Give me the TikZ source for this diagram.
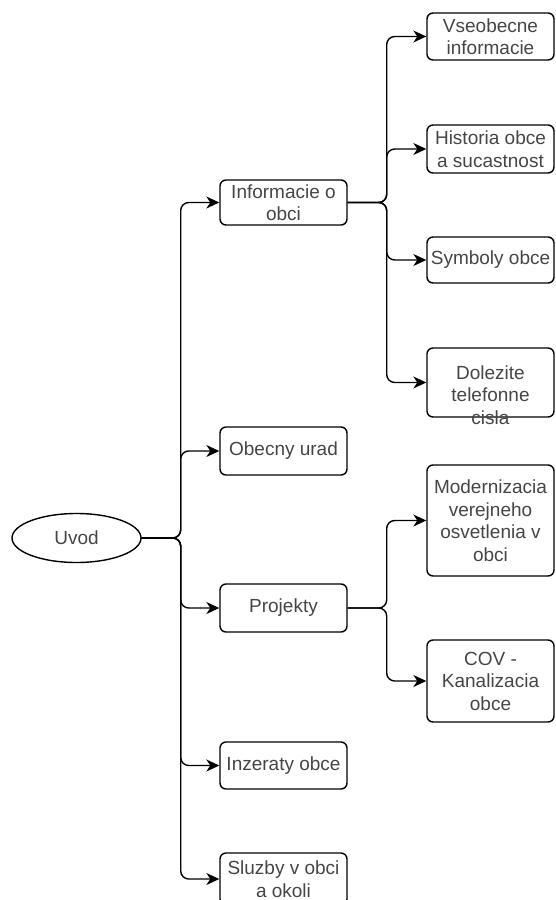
\documentclass[tikz,border=0pt]{standalone}
\usepackage{fontspec}
\setmainfont{Liberation Sans}
\usetikzlibrary{arrows.meta,shapes.geometric}
\definecolor{textgray}{gray}{0.27}
\begin{document}
\begin{tikzpicture}
          [x=1pt,y=-1pt,line width=1.4pt,
           every node/.style={font=\fontsize{19}{22.5}\selectfont, text=textgray, align=center, inner sep=0pt},
           box/.style={draw=black, rounded corners=6pt, minimum width=127pt},
           branch/.style={-{Stealth[length=13pt,width=12pt,inset=4pt]}, rounded corners=8pt,
                          to path={-- ++(39,0) |- (\tikztotarget)}}]
        \useasboundingbox (0,0) rectangle (556,900);

        \node[draw=black, ellipse, minimum width=129pt, minimum height=49pt] (uvod) at (76.5,538) {Uvod};

        \node[box, minimum height=45pt] (info) at (283.5,202.5) {Informacie o\\obci};
        \node[box, minimum height=48pt] (urad) at (283.5,451) {Obecny urad};
        \node[box, minimum height=48pt] (projekty) at (283.5,608) {Projekty};
        \node[box, minimum height=47pt] (inzeraty) at (283.5,765.5) {Inzeraty obce};
        \node[box, minimum height=52pt] (sluzby) at (283.5,879) {Sluzby v obci\\a okoli};

        \node[box, minimum height=47pt] (vseob) at (490.5,36.5) {Vseobecne\\informacie};
        \node[box, minimum height=48pt] (historia) at (490.5,149) {Historia obce\\a sucastnost};
        \node[box, minimum height=46pt] (symboly) at (490.5,260) {Symboly obce};
        \node[box, minimum height=69pt] (dolezite) at (490.5,382.5) {};
        \node (dolezitetext) at (490.5,395) {Dolezite\\telefonne\\cisla};

        \node[box, minimum height=111pt] (osvetlenie) at (490.5,520.5) {Modernizacia\\verejneho\\osvetlenia v\\obci};
        \node[box, minimum height=82pt] (kanalizacia) at (490.5,681) {COV -\\Kanalizacia\\obce};

        \foreach \from/\to in {uvod/info, uvod/urad, uvod/projekty, uvod/inzeraty, uvod/sluzby}
          \draw[branch] (\from.east) to (\to.west);

        \foreach \from/\to in {info/vseob, info/historia, info/symboly, info/dolezite}
          \draw[branch] (\from.east) to (\to.west);

        \foreach \from/\to in {projekty/osvetlenie, projekty/kanalizacia}
          \draw[branch] (\from.east) to (\to.west);
      \end{tikzpicture}
\end{document}
